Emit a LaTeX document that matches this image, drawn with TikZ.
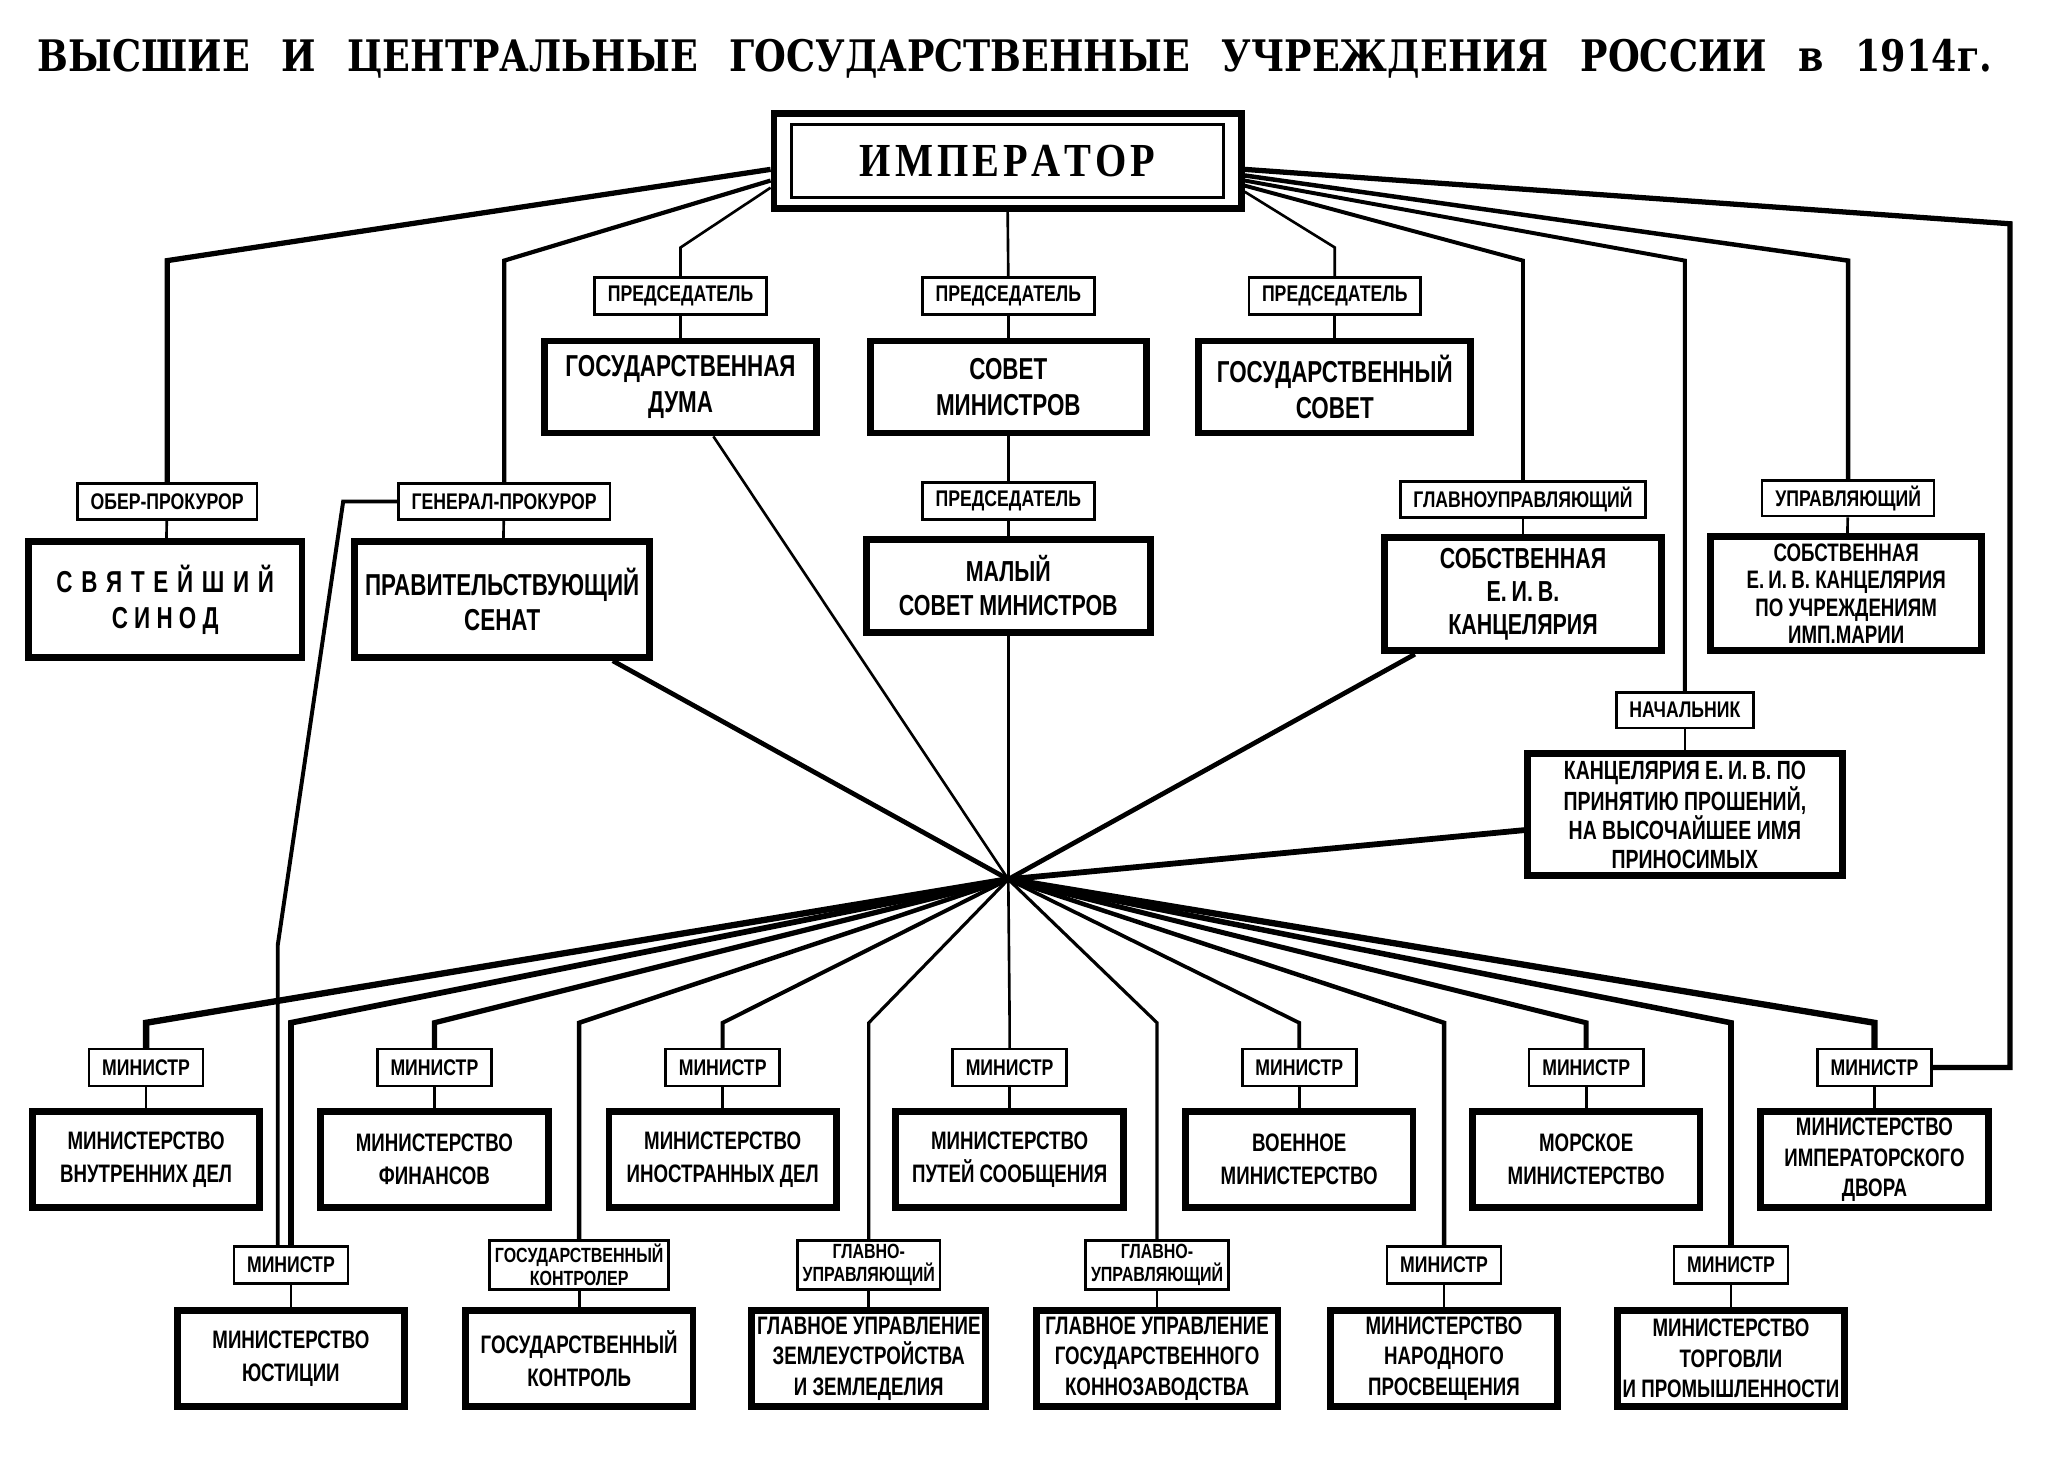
\documentclass[tikz,border=0pt]{standalone}
\usepackage{fontspec}
\setmainfont{Liberation Sans}
\newfontfamily\narrowfont[FakeStretch=0.74]{Liberation Sans}
\newfontfamily\postfont[FakeStretch=0.78]{Liberation Sans}
\newfontfamily\headfont[FakeStretch=0.84]{DejaVu Serif}
\newfontfamily\empfont[FakeStretch=0.85]{Liberation Serif}
\usepackage{tikz}
\usetikzlibrary{calc, positioning}

\begin{document}
\begin{tikzpicture}[x=0.5pt, y=-0.5pt]
	\tikzstyle{post}=[draw=black, line width=1pt, fill=white, inner xsep=5pt, inner ysep=1.5pt, minimum height=13.5pt, align=center, font=\postfont\bfseries\fontsize{8.6}{9}\selectfont]
	\tikzstyle{office}=[draw=black, line width=2.6pt, fill=white, align=center, inner sep=2pt, font=\narrowfont\bfseries\fontsize{11.5}{13.5}\selectfont]
	\tikzstyle{ministry}=[office, minimum width=86.4pt, minimum height=36.4pt, font=\narrowfont\bfseries\fontsize{9.6}{12.5}\selectfont]
	\tikzstyle{link}=[line width=1pt]

	\fill[white] (0,0) rectangle (1568,1123);
	\useasboundingbox (0,0) rectangle (1568,1123);

	\node (title) at (771,45) [font=\headfont\bfseries\fontsize{16.5}{18}\selectfont] {\spaceskip=12pt ВЫСШИЕ И ЦЕНТРАЛЬНЫЕ ГОСУДАРСТВЕННЫЕ УЧРЕЖДЕНИЯ РОССИИ в 1914г.};

	\node (emp) at (765.5,122.5) [draw=black, line width=2.6pt, fill=white, minimum width=177.5pt, minimum height=36pt, font=\empfont\bfseries\fontsize{18}{20}\selectfont] {\spaceskip=1.5pt И М П Е Р А Т О Р};
	\draw[line width=1.1pt] ([shift={(8pt,-5.5pt)}]emp.north west) rectangle ([shift={(-8pt,5.5pt)}]emp.south east);

	% chairmen and the three councils
	\node (predDuma) at (517,225) [post, minimum height=14pt] {ПРЕДСЕДАТЕЛЬ};
	\node (predSov) at (766,225) [post, minimum height=14pt] {ПРЕДСЕДАТЕЛЬ};
	\node (predGos) at (1014,225) [post, minimum height=14pt] {ПРЕДСЕДАТЕЛЬ};
	\node (duma) at (517,294) [office, minimum width=103.4pt, minimum height=34.9pt] {ГОСУДАРСТВЕННАЯ\\ДУМА};
	\node (sovmin) at (766,294) [office, minimum width=104.9pt, minimum height=34.9pt] {СОВЕТ\\МИНИСТРОВ};
	\node (gossov) at (1014,294) [office, minimum width=103.4pt, minimum height=34.9pt] {ГОСУДАРСТВЕННЫЙ\\СОВЕТ};

	% second level
	\node (ober) at (127,381) [post] {ОБЕР-ПРОКУРОР};
	\node (synod) at (125.5,455.5) [office, minimum width=103.9pt, minimum height=43.9pt] {\spaceskip=3.3pt С В Я Т Е Й Ш И Й\\С И Н О Д};
	\node (genprok) at (383,381) [post] {ГЕНЕРАЛ-ПРОКУРОР};
	\node (senat) at (381.5,455.5) [office, minimum width=111.9pt, minimum height=43.9pt] {ПРАВИТЕЛЬСТВУЮЩИЙ\\СЕНАТ};
	\node (predMal) at (766,380.5) [post, minimum height=14pt] {ПРЕДСЕДАТЕЛЬ};
	\node (malyi) at (766,445) [office, minimum width=107.9pt, minimum height=35.4pt, font=\narrowfont\bfseries\fontsize{11}{13}\selectfont] {МАЛЫЙ\\СОВЕТ МИНИСТРОВ};
	\node (glavupr) at (1157,379.5) [post] {ГЛАВНОУПРАВЛЯЮЩИЙ};
	\node (sobst) at (1157,451.5) [office, minimum width=105.4pt, minimum height=42.9pt, font=\narrowfont\bfseries\fontsize{11}{12.5}\selectfont] {СОБСТВЕННАЯ\\Е.\,И.\,В.\\КАНЦЕЛЯРИЯ};
	\node (upr) at (1404,378.5) [post] {УПРАВЛЯЮЩИЙ};
	\node (mariya) at (1402.5,451) [office, minimum width=102.9pt, minimum height=43.4pt, font=\narrowfont\bfseries\fontsize{9.6}{10.3}\selectfont] {СОБСТВЕННАЯ\\Е.\,И.\,В. КАНЦЕЛЯРИЯ\\ПО УЧРЕЖДЕНИЯМ\\ИМП.МАРИИ};
	\node (nach) at (1280,539.5) [post] {НАЧАЛЬНИК};
	\node (proshen) at (1280,619) [office, minimum width=119.4pt, minimum height=46.4pt, font=\narrowfont\bfseries\fontsize{10}{11}\selectfont] {КАНЦЕЛЯРИЯ Е.\,И.\,В. ПО\\ПРИНЯТИЮ ПРОШЕНИЙ,\\НА ВЫСОЧАЙШЕЕ ИМЯ\\ПРИНОСИМЫХ};

	% ministries, upper row
	\node (mMVD) at (111,811) [post, minimum height=14pt] {МИНИСТР};
	\node (mFin) at (330,811) [post, minimum height=14pt] {МИНИСТР};
	\node (mInost) at (549,811) [post, minimum height=14pt] {МИНИСТР};
	\node (mPut) at (767,811) [post, minimum height=14pt] {МИНИСТР};
	\node (mVoen) at (987,811) [post, minimum height=14pt] {МИНИСТР};
	\node (mMor) at (1205,811) [post, minimum height=14pt] {МИНИСТР};
	\node (mDvor) at (1424,811) [post, minimum height=14pt] {МИНИСТР};
	\node (mvd) at (111,881) [ministry] {МИНИСТЕРСТВО\\ВНУТРЕННИХ ДЕЛ};
	\node (fin) at (330,881) [ministry] {МИНИСТЕРСТВО\\ФИНАНСОВ};
	\node (inost) at (549,881) [ministry] {МИНИСТЕРСТВО\\ИНОСТРАННЫХ ДЕЛ};
	\node (put) at (767,881) [ministry] {МИНИСТЕРСТВО\\ПУТЕЙ СООБЩЕНИЯ};
	\node (voen) at (987,881) [ministry] {ВОЕННОЕ\\МИНИСТЕРСТВО};
	\node (mor) at (1205,881) [ministry] {МОРСКОЕ\\МИНИСТЕРСТВО};
	\node (dvor) at (1424,881) [ministry, font=\narrowfont\bfseries\fontsize{9.6}{11.5}\selectfont] {МИНИСТЕРСТВО\\ИМПЕРАТОРСКОГО\\ДВОРА};

	% ministries, lower row
	\node (mJust) at (221,961) [post, minimum height=14pt] {МИНИСТР};
	\node (pKontrol) at (440,961) [post, minimum height=18.5pt, inner xsep=2pt, font=\postfont\bfseries\fontsize{7.8}{8.6}\selectfont] {ГОСУДАРСТВЕННЫЙ\\КОНТРОЛЕР};
	\node (pZeml) at (660,961) [post, minimum height=18.5pt, inner xsep=2pt, font=\postfont\bfseries\fontsize{7.8}{8.6}\selectfont] {ГЛАВНО-\\УПРАВЛЯЮЩИЙ};
	\node (pKonno) at (879,961) [post, minimum height=18.5pt, inner xsep=2pt, font=\postfont\bfseries\fontsize{7.8}{8.6}\selectfont] {ГЛАВНО-\\УПРАВЛЯЮЩИЙ};
	\node (mNarod) at (1097,961) [post, minimum height=14pt] {МИНИСТР};
	\node (mTorg) at (1315,961) [post, minimum height=14pt] {МИНИСТР};
	\node (just) at (221,1032) [ministry] {МИНИСТЕРСТВО\\ЮСТИЦИИ};
	\node (kontrol) at (440,1032) [ministry] {ГОСУДАРСТВЕННЫЙ\\КОНТРОЛЬ};
	\node (zeml) at (660,1032) [ministry, minimum width=88.4pt, font=\narrowfont\bfseries\fontsize{9.6}{11.5}\selectfont] {ГЛАВНОЕ УПРАВЛЕНИЕ\\ЗЕМЛЕУСТРОЙСТВА\\И ЗЕМЛЕДЕЛИЯ};
	\node (konno) at (879,1032) [ministry, minimum width=91.9pt, font=\narrowfont\bfseries\fontsize{9.6}{11.5}\selectfont] {ГЛАВНОЕ УПРАВЛЕНИЕ\\ГОСУДАРСТВЕННОГО\\КОННОЗАВОДСТВА};
	\node (narod) at (1097,1032) [ministry, font=\narrowfont\bfseries\fontsize{9.6}{11.5}\selectfont] {МИНИСТЕРСТВО\\НАРОДНОГО\\ПРОСВЕЩЕНИЯ};
	\node (torg) at (1315,1032) [ministry, font=\narrowfont\bfseries\fontsize{9.6}{11.5}\selectfont] {МИНИСТЕРСТВО\\ТОРГОВЛИ\\И ПРОМЫШЛЕННОСТИ};

	\coordinate (star) at (766,668);
	\coordinate (upbend) at (0,198);
	\coordinate (predbend) at (0,188);
	\coordinate (lowbend) at (0,777);
	\coordinate (dvrbend) at (1527,170);
	\coordinate (gpbend) at (211,718);

	% lines from the emperor
	\draw[line width=2pt] ($(emp.north west)!0.58!(emp.south west)$) -- (ober.north |- upbend) -- (ober.north);
	\draw[line width=1.6pt] ($(emp.north west)!0.69!(emp.south west)$) -- (genprok.north |- upbend) -- (genprok.north);
	\draw[link] ($(emp.north west)!0.76!(emp.south west)$) -- (predDuma.north |- predbend) -- (predDuma.north);
	\draw[link] (emp.south) -- (predSov.north);
	\draw[link] ($(emp.north east)!0.80!(emp.south east)$) -- (predGos.north |- predbend) -- (predGos.north);
	\draw[line width=1.5pt] ($(emp.north east)!0.74!(emp.south east)$) -- (glavupr.north |- upbend) -- (glavupr.north);
	\draw[line width=1.5pt] ($(emp.north east)!0.69!(emp.south east)$) -- (nach.north |- upbend) -- (nach.north);
	\draw[line width=1.7pt] ($(emp.north east)!0.64!(emp.south east)$) -- (upr.north |- upbend) -- (upr.north);
	\draw[line width=2pt] ($(emp.north east)!0.58!(emp.south east)$) -- (dvrbend) -- (dvrbend |- mDvor.east) -- (mDvor.east);

	% posts to offices
	\draw[link] (predDuma) -- (duma);
	\draw[link] (predSov) -- (sovmin);
	\draw[link] (predGos) -- (gossov);
	\draw[link] (ober) -- (synod);
	\draw[link] (genprok) -- (senat);
	\draw[link] (sovmin) -- (predMal);
	\draw[link] (predMal) -- (malyi);
	\draw[link] (glavupr) -- (sobst);
	\draw[link] (upr) -- (mariya);
	\draw[link] (nach) -- (proshen);
	\foreach \p/\o in {mMVD/mvd, mFin/fin, mInost/inost, mPut/put, mVoen/voen, mMor/mor, mDvor/dvor, mJust/just, pKontrol/kontrol, pZeml/zeml, pKonno/konno, mNarod/narod, mTorg/torg}
		\draw[link] (\p) -- (\o);

	\draw[line width=1.5pt] (genprok.west) -- ++(-41,0) -- (gpbend) -- (gpbend |- mJust.north);

	% the star
	\draw[line width=1pt] (star) -- (duma);
	\draw[line width=1.8pt] (star) -- (senat);
	\draw[line width=1.2pt] (star) -- (malyi);
	\draw[line width=1.8pt] (star) -- (sobst);
	\draw[line width=2.2pt] (star) -- (proshen);
	\foreach \m/\w in {mMVD/2.4, mJust/2.2, mFin/2, pKontrol/1.7, mInost/1.5, pZeml/1.2, mPut/1, pKonno/1.2, mVoen/1.4, mNarod/1.7, mMor/1.9, mTorg/2.1, mDvor/2.4}
		\draw[line width=\w pt] (star) -- (\m.north |- lowbend) -- (\m.north);
\end{tikzpicture}
\end{document}
